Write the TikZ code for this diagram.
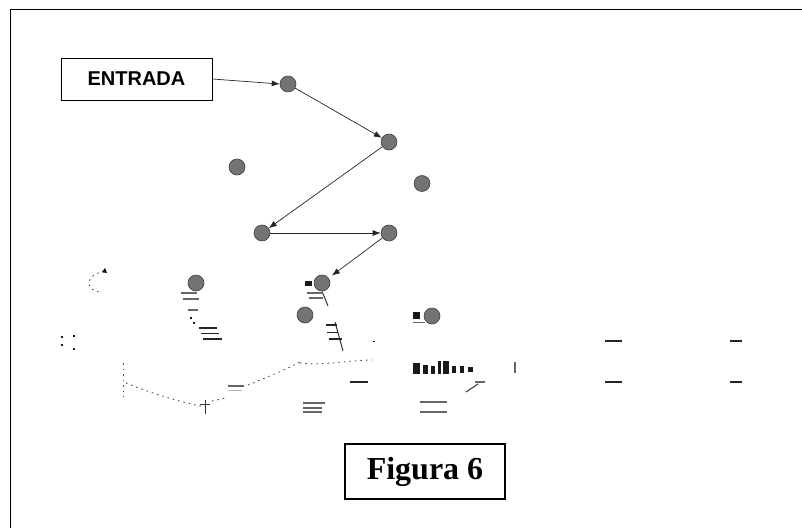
\documentclass[tikz,border=0pt]{standalone}
\usepackage{fontspec}
\setmainfont{Liberation Serif}
\newfontfamily\entfont{Liberation Sans}
\usetikzlibrary{arrows.meta}
\tikzset{
  pt/.style={circle, fill=gray!90!black, draw=black!75, line width=0.6pt, minimum size=16pt, inner sep=0pt},
  conn/.style={draw=black!85, line width=0.7pt, -{Latex[length=8pt,width=6pt]}},
  labelbox/.style={draw=black, line width=0.8pt, inner sep=0pt},
  frag/.style={black!80, line width=1pt},
  gbar/.style={gray!80!black, line width=1.6pt},
  kbar/.style={black!85, line width=1.6pt},
  dotl/.style={black!70, line width=0.9pt, dash pattern=on 1.5pt off 4pt},
  blob/.style={fill=black!90, draw=none}
}
\begin{document}
\begin{tikzpicture}[x=1pt,y=-1pt]
\useasboundingbox (0,0) rectangle (802,527);
% outer frame (right and bottom edges cut off)
\draw[black, line width=1pt] (10,540) -- (10,10) -- (815,10);

% ENTRADA box
\node[labelbox, minimum width=151pt, minimum height=42pt] (entrada) at (136.5,79) {\entfont\bfseries\fontsize{20}{20}\selectfont ENTRADA};

% nodes
\node[pt] (n1) at (288,84) {};
\node[pt] (n2) at (389,142) {};
\node[pt] (n3) at (237,167) {};
\node[pt] (n4) at (422,183.5) {};
\node[pt] (n5) at (262,233) {};
\node[pt] (n6) at (389,233) {};
\node[pt] (n7) at (322,283) {};
\node[pt] (n8) at (196,283) {};
\node[pt] (n9) at (305,315) {};
\node[pt] (n10) at (432,316) {};

% connectors
\draw[conn] (entrada.east) -- (n1.west);
\draw[conn] (n1) -- (n2);
\draw[conn] (n2) -- (n5);
\draw[conn] (n5) -- (n6);
\draw[conn, shorten >=4pt] (n6) -- (n7);

% fragments (degraded area)
\draw[frag] (n7.south) -- (328,306);
\draw[frag] (335,322) -- (343,351);
\fill[blob] (305,281) rectangle (312,286);
\fill[blob] (413,312) rectangle (420,319);
\draw[gbar] (413,322.5) -- (425,322.5);
\draw[gbar] (307,293) -- (323,293);
\draw[gbar] (309,298) -- (323,298);
\draw[gbar] (181,293) -- (197,293);
\draw[gbar] (183,299) -- (199,299);
\draw[gbar] (188,310) -- (198,310);
\draw[kbar] (199,328) -- (217,328);
\draw[kbar] (201,333.5) -- (219,333.5);
\draw[kbar] (203,339) -- (222,339);
\draw[kbar] (326,325) -- (337,325);
\draw[kbar] (327,332.5) -- (338,332.5);
\draw[kbar] (329,339) -- (342,339);
\fill[blob] (190,317) rectangle (192,319);
\fill[blob] (193,322) rectangle (195,324);
\fill[blob] (373,340.5) rectangle (375,342);
% small dashed arc at left
\draw[dotl] (104,272) .. controls (88,272) and (82,290) .. (100,292);
\fill[black] (105,268) -- (107,273) -- (102,272) -- cycle;
\fill[blob] (61,336) rectangle (62.5,338);
\fill[blob] (73,335) rectangle (74.5,336.5);
\fill[blob] (61,344) rectangle (62.5,346);
\fill[blob] (73,348) rectangle (74.5,349.5);
% dotted curve at bottom
\draw[dotl] (123,363) -- (123,397);
\draw[dotl] (126,383) .. controls (150,393) and (180,402) .. (205,407);
\draw[frag] (205,400) -- (205,414);
\draw[frag] (200,404) -- (210,404);
\draw[dotl] (212,401) -- (226,398);
\draw[gbar] (228,386) -- (244,386);
\draw[gray!60, line width=1pt] (229,390) -- (242,390);
\draw[dotl] (248,385) .. controls (265,378) and (285,370) .. (300,362);
\draw[dotl] (300,363) .. controls (320,366) and (350,360) .. (372,360);
\draw[kbar] (350,382) -- (368,382);
\draw[gbar] (303,403) -- (325,403);
\draw[gbar] (303,408) -- (322,408);
\draw[gbar] (303,412) -- (322,412);
% garbled word
\fill[blob] (413,363) rectangle (420,374);
\fill[blob] (423,365) rectangle (428,374);
\fill[blob] (431,366) rectangle (435,374);
\fill[blob] (438,361) rectangle (441,374);
\fill[blob] (443,361) rectangle (449,374);
\fill[blob] (452,366) rectangle (456,373);
\fill[blob] (460,366) rectangle (464,373);
\fill[blob] (468,367) rectangle (473,372);
\draw[gray!80!black, line width=1.4pt] (515,362) -- (515,373);
\draw[frag] (466,392) -- (478,384);
\draw[gbar] (475,382) -- (485,382);
\draw[gbar] (420,402) -- (447,402);
\draw[gbar] (420,412) -- (447,412);
% right bars
\draw[kbar] (605,341) -- (622,341);
\draw[kbar] (605,382) -- (622,382);
\draw[kbar] (730,341) -- (742,341);
\draw[kbar] (730,382) -- (742,382);

% Figura 6 box
\node[draw=black, line width=1.5pt, minimum width=160pt, minimum height=55pt, inner sep=0pt] (fig) at (425,471.5) {\bfseries\fontsize{32}{32}\selectfont Figura 6};
\end{tikzpicture}
\end{document}
